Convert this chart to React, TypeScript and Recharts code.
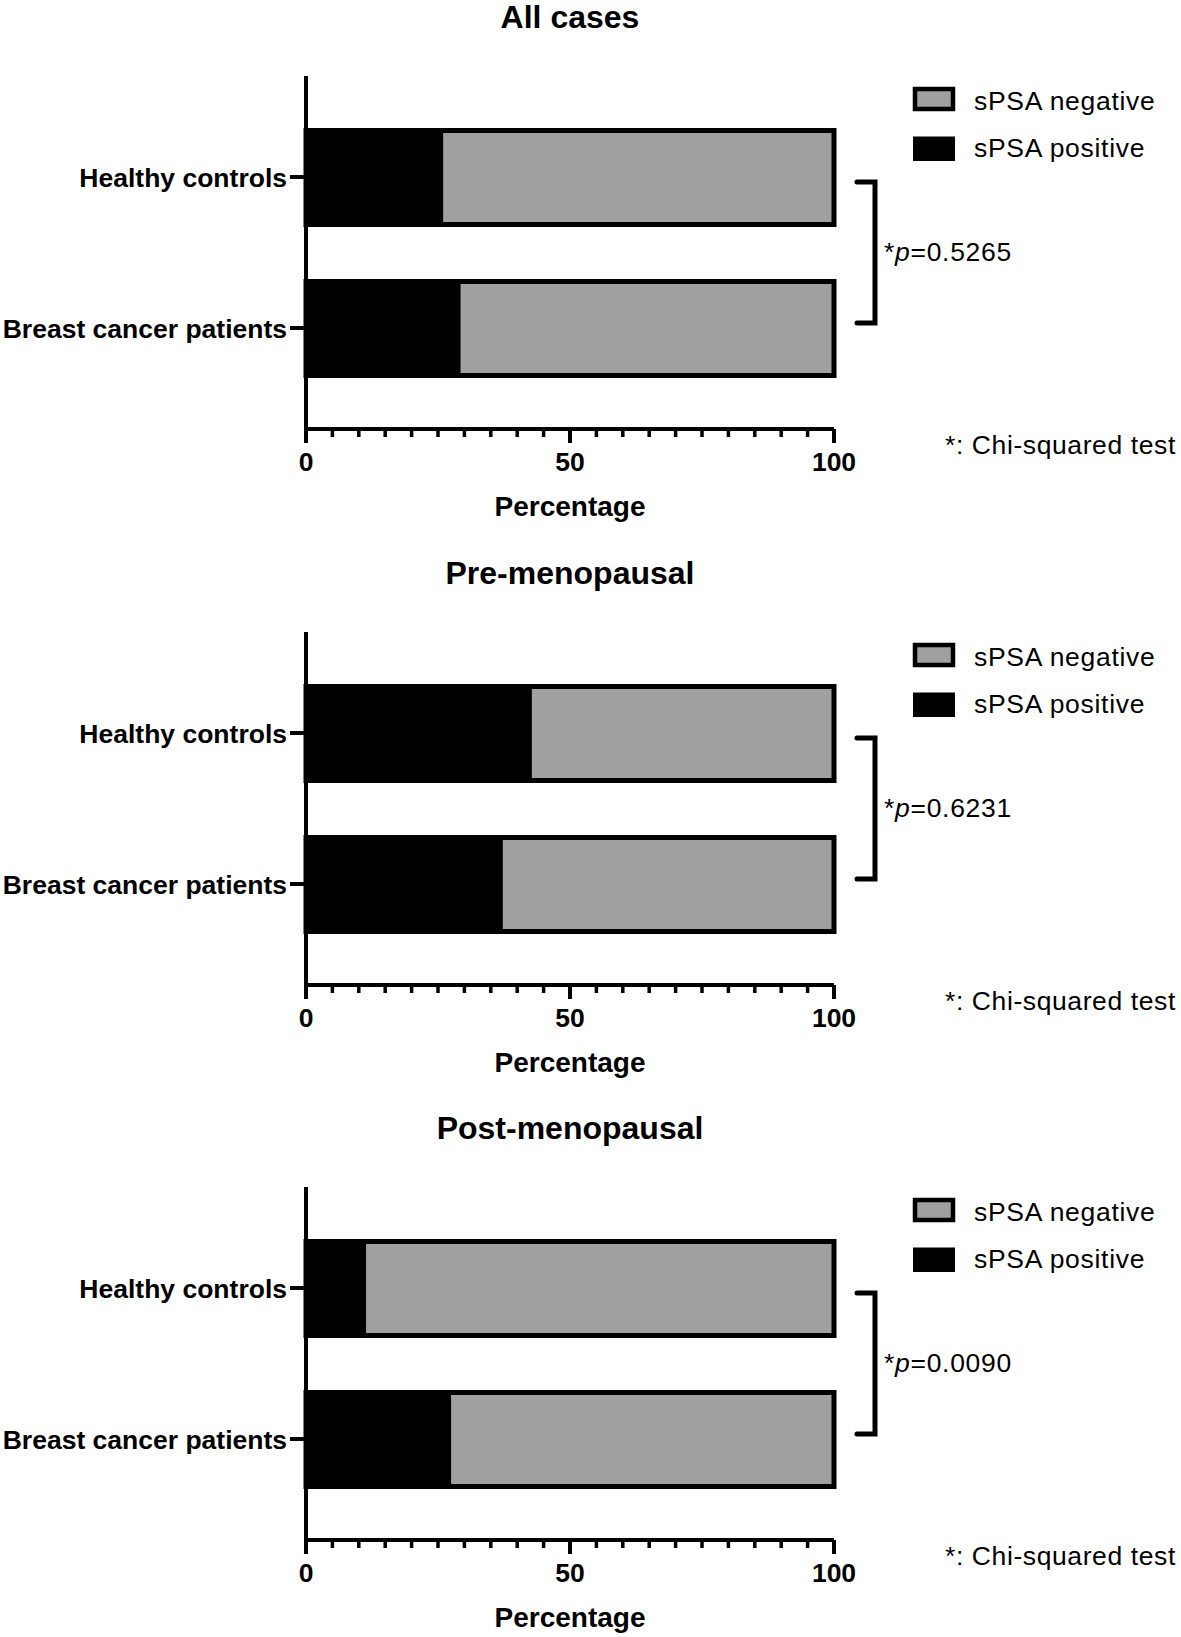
import React from 'react';
import { BarChart, Bar, XAxis, YAxis, Legend } from 'recharts';

const categories = ['Healthy controls', 'Breast cancer patients'];
const panelTitles = ['All cases', 'Pre-menopausal', 'Post-menopausal'];
const positiveAll = [25.5, 28.8];
const negativeAll = [74.5, 71.2];
const positivePre = [42.3, 36.8];
const negativePre = [57.7, 63.2];
const positivePost = [10.9, 27.0];
const negativePost = [89.1, 73.0];
const pValues = ['0.5265', '0.6231', '0.0090'];
const xTicks = [0, 5, 10, 15, 20, 25, 30, 35, 40, 45, 50, 55, 60, 65, 70, 75, 80, 85, 90, 95, 100];
const xTickLabels = [0, 50, 100];
const negName = 'sPSA negative';
const posName = 'sPSA positive';
const testNote = '*: Chi-squared test';
const axisTitle = 'Percentage';

const FONT = '"Liberation Sans", Arial, Helvetica, sans-serif';
const W = 1181;
const H = 555;
const GREY = '#A0A0A0';
const panelTops = [0, 555.5, 1111];

const positives = [positiveAll, positivePre, positivePost];
const negatives = [negativeAll, negativePre, negativePost];

const XTick = (props: any) => {
  const { x, y, payload } = props;
  const v = payload.value;
  const major = xTickLabels.includes(v);
  return (
    <g>
      <line x1={x} x2={x} y1={y} y2={y + (major ? 14 : 8)} stroke="#000" strokeWidth={major ? 4 : 3.5} />
      {major && (
        <text x={x} y={y + 41.5} textAnchor="middle" fontFamily={FONT} fontWeight="bold" fontSize={26.5} fill="#000">
          {v}
        </text>
      )}
    </g>
  );
};

const YTick = (props: any) => {
  const { x, y, payload } = props;
  return (
    <g>
      <line x1={x - 16} x2={x} y1={y} y2={y} stroke="#000" strokeWidth={4} />
      <text x={x - 19} y={y + 9.5} textAnchor="end" fontFamily={FONT} fontWeight="bold" fontSize={26.5} fill="#000">
        {payload.value}
      </text>
    </g>
  );
};

const LegendBox = () => (
  <svg width={268} height={80} style={{ display: 'block', overflow: 'visible' }}>
    <rect x={2} y={2} width={38} height={20} fill={GREY} stroke="#000" strokeWidth={4.5} />
    <text x={61} y={23} fontFamily={FONT} fontSize={26.5} style={{ letterSpacing: '0.7px' }} fill="#000">{negName}</text>
    <rect x={0} y={49.5} width={42} height={24.5} fill="#000" />
    <text x={61} y={70} fontFamily={FONT} fontSize={26.5} style={{ letterSpacing: '0.7px' }} fill="#000">{posName}</text>
  </svg>
);

const AxisTitle = (props: any) => {
  const vb = props.viewBox || { x: 306, y: 429, width: 528 };
  return (
    <text x={vb.x + vb.width / 2} y={vb.y + 87} textAnchor="middle" fontFamily={FONT} fontWeight="bold" fontSize={28} fill="#000">
      {axisTitle}
    </text>
  );
};

const Panel = ({ idx }: { idx: number }) => {
  const data = categories.map((name, i) => ({ name, pos: positives[idx][i], neg: negatives[idx][i] }));
  return (
    <div style={{ position: 'absolute', left: 0, top: panelTops[idx], width: W, height: H }}>
      <BarChart
        layout="vertical"
        width={W}
        height={H}
        data={data}
        margin={{ top: 76, right: 347, bottom: 66, left: 106 }}
      >
        <XAxis
          type="number"
          domain={[0, 100]}
          ticks={xTicks}
          interval={0}
          height={60}
          tickSize={0}
          tickMargin={0}
          tickLine={false}
          axisLine={{ stroke: '#000', strokeWidth: 4 }}
          tick={(p: any) => <XTick {...p} />}
          label={{ content: (p: any) => <AxisTitle {...p} /> }}
        />
        <YAxis
          type="category"
          dataKey="name"
          width={200}
          padding={{ top: 25.5, bottom: 25.5 }}
          tickSize={0}
          tickMargin={0}
          tickLine={false}
          axisLine={{ stroke: '#000', strokeWidth: 4 }}
          tick={(p: any) => <YTick {...p} />}
        />
        <Legend
          layout="vertical"
          align="center"
          verticalAlign="middle"
          content={() => <LegendBox />}
          wrapperStyle={{ position: 'absolute', left: 913, top: 87, width: 268, height: 80 }}
        />
        <Bar dataKey="pos" name={posName} stackId="s" fill="#000" stroke="#000" strokeWidth={5} barSize={94} isAnimationActive={false} />
        <Bar dataKey="neg" name={negName} stackId="s" fill={GREY} stroke="#000" strokeWidth={5} barSize={94} isAnimationActive={false} />
      </BarChart>
      <svg width={W} height={H} style={{ position: 'absolute', left: 0, top: 0, pointerEvents: 'none' }}>
        <text x={570} y={28} textAnchor="middle" fontFamily={FONT} fontWeight="bold" fontSize={32} fill="#000">
          {panelTitles[idx]}
        </text>
        <path d="M857,182 H875 V323 H857" fill="none" stroke="#000" strokeWidth={5} strokeLinecap="round" strokeLinejoin="miter" />
        <text x={884} y={261} fontFamily={FONT} fontSize={26.5} style={{ letterSpacing: '0.7px' }} fill="#000">
          <tspan>*</tspan>
          <tspan fontStyle="italic">p</tspan>
          <tspan>={pValues[idx]}</tspan>
        </text>
        <text x={945} y={454} fontFamily={FONT} fontSize={26.5} style={{ letterSpacing: '0.6px' }} fill="#000">
          {testNote}
        </text>
      </svg>
    </div>
  );
};

export default function App() {
  return (
    <div style={{ position: 'absolute', left: 0, top: 0, width: W, height: 1637, overflow: 'hidden', background: '#fff' }}>
      {panelTitles.map((_, i) => (
        <Panel key={i} idx={i} />
      ))}
    </div>
  );
}
